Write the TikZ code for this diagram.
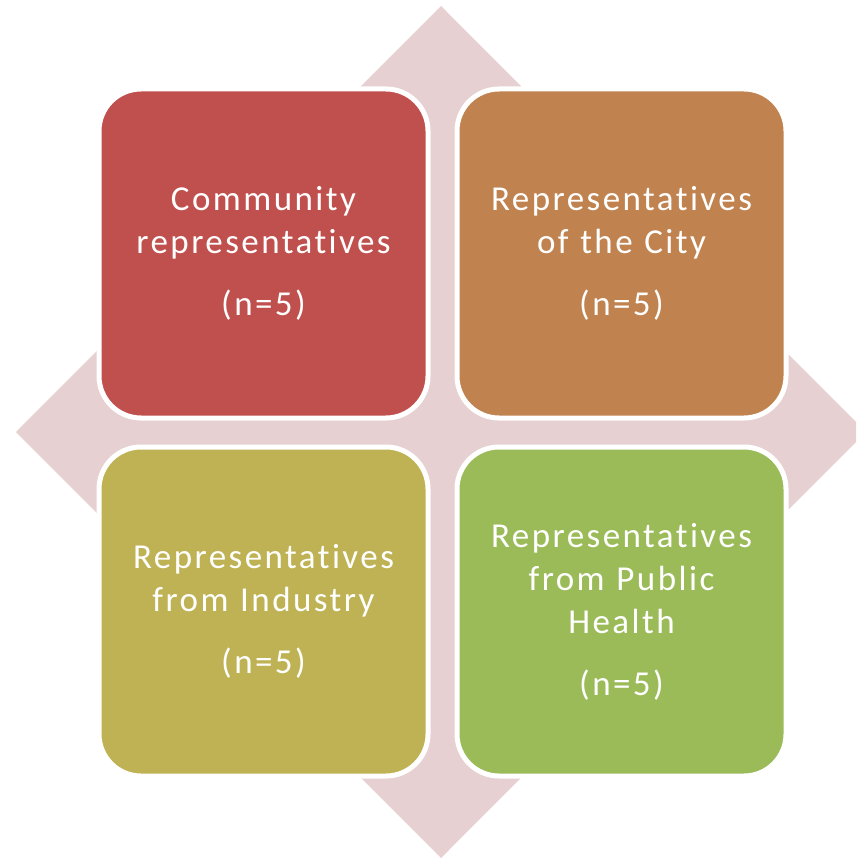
\documentclass[tikz,border=0pt]{standalone}
\usepackage{fontspec}
\setmainfont{Carlito}[Ligatures=NoCommon, LetterSpace=7, WordSpace=1.4]
\definecolor{diamondpink}{HTML}{E7D0D1}
\definecolor{boxred}{HTML}{C0504D}
\definecolor{boxorange}{HTML}{C0824F}
\definecolor{boxolive}{HTML}{BFB254}
\definecolor{boxgreen}{HTML}{9BBB59}
\tikzset{
  groupbox/.style={draw=white, line width=5pt, rounded corners=42pt,
    minimum width=329pt, minimum height=329pt, inner sep=0pt,
    text=white, align=center, text width=310pt,
    font=\fontsize{35}{43}\selectfont},
}
\begin{document}
\begin{tikzpicture}[x=1pt,y=-1pt]
\useasboundingbox (0,0) rectangle (856,858);
\clip (0,0) rectangle (856,858);
% background diamond
\fill[diamondpink] (441,6) -- (866,432) -- (441,858) -- (16,432) -- cycle;
% the four groups
\node[groupbox, fill=boxred] (community) at (263.5,253.5)
  {Community\\representatives\\[19pt](n=5)};
\node[groupbox, fill=boxorange] (city) at (621.5,253.5)
  {Representatives\\of the City\\[19pt](n=5)};
\node[groupbox, fill=boxolive] (industry) at (263.5,611.5)
  {Representatives\\from Industry\\[19pt](n=5)};
\node[groupbox, fill=boxgreen] (health) at (621.5,611.5)
  {Representatives\\from Public\\Health\\[19pt](n=5)};
\end{tikzpicture}
\end{document}
